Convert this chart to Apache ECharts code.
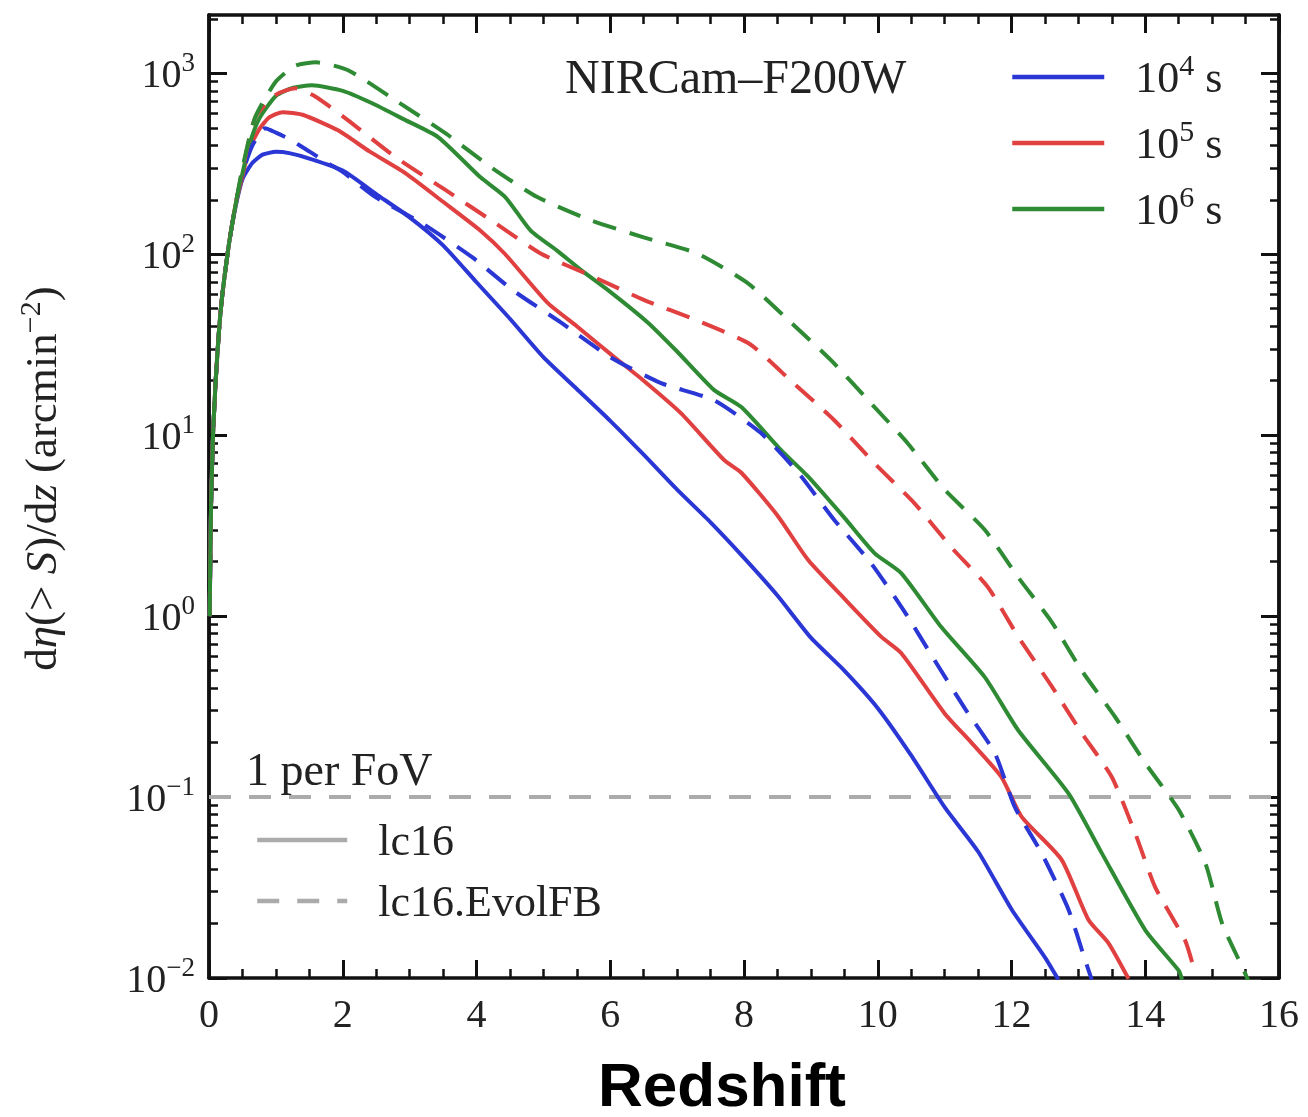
<!DOCTYPE html>
<html>
<head>
<meta charset="utf-8">
<script src="https://cdn.jsdelivr.net/npm/echarts@6/dist/echarts.min.js"></script>
<style>
html,body{margin:0;padding:0;background:#fff;}
#main{width:1308px;height:1117px;}
</style>
</head>
<body>
<div id="main"></div>
<script>
// ---------- DATA ----------
// lc16, 10^4 s (blue solid)
const zB  = [0.01,0.03,0.06,0.1,0.15,0.2,0.3,0.4,0.5,0.65,0.8,1.0,1.2,1.5,2.0,2.5,3.0,3.5,4.0,4.5,5.0,5.5,6.0,6.5,7.0,7.5,8.0,8.5,9.0,9.5,10.0,10.5,11.0,11.5,12.0,12.5,12.7];
const vB  = [1.0,4,10,20,38,60,115,185,260,320,355,368,362,338,290,215,160,112,70,44,27,18,12,7.8,5.0,3.3,2.1,1.3,0.76,0.5,0.31,0.17,0.088,0.05,0.024,0.013,0.0098];
// lc16.EvolFB, 10^4 s (blue dashed)
const zBd = [0.01,0.03,0.06,0.1,0.15,0.2,0.3,0.4,0.5,0.65,0.84,1.0,1.18,1.5,1.78,2.0,2.49,3.19,3.94,4.55,5.26,6.0,6.76,7.55,8.25,8.81,9.35,9.9,10.4,10.85,11.3,11.75,12.05,12.45,12.85,13.1,13.2];
const vBd = [1.0,4,10,20,38,60,115,190,280,400,497,470,437,370,318,285,207,148,96,63,42,27,19.4,15.6,10.3,6.2,3.4,1.96,1.06,0.57,0.31,0.175,0.088,0.049,0.024,0.0126,0.0098];
// lc16, 10^5 s (red solid)
const zR  = [0.01,0.03,0.06,0.1,0.15,0.2,0.3,0.4,0.5,0.6,0.75,0.9,1.1,1.4,1.93,2.4,2.94,3.5,4.06,4.43,5.06,5.5,6.06,6.5,7.06,7.7,7.96,8.5,8.96,9.5,10.05,10.35,11.0,11.4,11.85,12.15,12.75,13.15,13.45,13.75];
const vR  = [1.0,4,10,20,38,60,115,190,270,380,490,570,610,590,484,370,280,195,135,100,54,40,27,20,13.2,7.3,6.2,3.6,2.04,1.25,0.77,0.625,0.29,0.2,0.129,0.078,0.045,0.021,0.0156,0.0099];
// lc16.EvolFB, 10^5 s (red dashed)
const zRd = [0.01,0.03,0.06,0.1,0.15,0.2,0.3,0.4,0.5,0.69,1.0,1.29,1.6,2.08,2.79,3.54,4.22,4.96,5.75,6.5,7.3,8.08,8.7,9.35,9.95,10.55,11.1,11.65,12.1,12.6,13.05,13.5,13.85,14.15,14.6,14.75];
const vRd = [1.0,4,10,20,38,60,115,190,290,570,760,826,740,550,344,226,154,101,75,56,43,32,20,12.1,7,4.2,2.4,1.44,0.77,0.41,0.226,0.129,0.063,0.0317,0.016,0.0105];
// lc16, 10^6 s (green solid)
const zG  = [0.01,0.03,0.06,0.1,0.15,0.2,0.3,0.4,0.5,0.6,0.75,1.0,1.25,1.54,2.0,2.44,2.9,3.43,4.06,4.43,4.81,5.2,5.56,6.0,6.56,7.0,7.55,7.96,8.55,8.96,9.5,9.95,10.35,10.95,11.6,12.1,12.85,13.35,14.0,14.5,14.55];
const vG  = [1.0,4,10,20,38,60,115,190,280,400,560,750,830,858,800,683,560,443,266,207,135,105,82,62,42,29,17.8,14.3,8.3,5.9,3.5,2.23,1.73,0.87,0.46,0.234,0.105,0.049,0.0184,0.011,0.0098];
// lc16.EvolFB, 10^6 s (green dashed)
const zGd = [0.01,0.03,0.06,0.1,0.15,0.2,0.3,0.4,0.5,0.69,1.0,1.29,1.6,2.08,2.79,3.54,4.22,4.91,5.71,6.5,7.3,8.06,8.7,9.3,9.9,10.45,11.0,11.6,12.1,12.6,13.05,13.55,14.0,14.5,14.9,15.15,15.45,15.55];
const vGd = [1.0,4,10,20,38,60,115,190,300,570,900,1100,1150,1040,708,465,302,207,154,124,101,69,42,26,15,9,5,3,1.64,0.93,0.5,0.277,0.154,0.085,0.043,0.02,0.0115,0.0095];

const fovLevel = 0.1;            // "1 per FoV"
const fovRange = [0, 16];
const exposureNames = ['10⁴ s','10⁵ s','10⁶ s'];
const modelNames = ['lc16','lc16.EvolFB'];
const yMajorTicks = [0.01,0.1,1,10,100,1000];
const yMinorTicks = [];
[0.01,0.1,1,10,100,1000].forEach(d => { for (let k = 2; k <= 9; k++) yMinorTicks.push(+(d*k).toPrecision(3)); });
const xTickLabels = [0,2,4,6,8,10,12,14,16];

// ---------- CHART ----------
const SERIF = "'Liberation Serif', 'DejaVu Serif', serif";
const BLUE = '#2b37d4', RED = '#e04040', GREEN = '#2e8b34', GRAY = '#ababab';
const pairs = (xs, ys) => xs.map((x, i) => [x, ys[i]]);
const DASH = [24, 14];

function curve(name, xs, ys, color, dashed) {
  return {
    name, type: 'line', xAxisIndex: 0, yAxisIndex: 0,
    data: pairs(xs, ys), showSymbol: false, symbol: 'none', smooth: 0.2,
    clip: true, z: 5,
    lineStyle: { color, width: 4, type: dashed ? DASH : 'solid' },
    itemStyle: { color }
  };
}

const supMap = { '⁴':'4', '⁵':'5', '⁶':'6' };
const richTick = {
  b: { fontFamily: SERIF, fontSize: 40, color: '#222', lineHeight: 46, verticalAlign: 'bottom' },
  s: { fontFamily: SERIF, fontSize: 27, color: '#222', lineHeight: 30, verticalAlign: 'top' }
};
const richLegend = {
  sp: { width: 26 },
  b: { fontFamily: SERIF, fontSize: 44, color: '#222', lineHeight: 50, verticalAlign: 'bottom' },
  s: { fontFamily: SERIF, fontSize: 30, color: '#222', lineHeight: 32, verticalAlign: 'top' }
};

function yAxisDef(pos, major, showLabel) {
  return {
    type: 'log', logBase: 10, min: 0.01, max: 2100, position: pos,
    splitLine: { show: false },
    axisLine: { show: true, onZero: false, lineStyle: { color: '#111', width: 3.5 } },
    axisTick: { show: true, inside: true, length: major ? 18 : 9,
      customValues: major ? yMajorTicks : yMinorTicks,
      lineStyle: { color: '#111', width: major ? 3 : 2.5 } },
    axisLabel: showLabel ? {
      show: true, customValues: yMajorTicks, margin: 14,
      formatter: v => { const e = Math.round(Math.log10(v)); return '{b|10}{s|' + (e < 0 ? '−' + (-e) : e) + '}'; },
      rich: richTick
    } : { show: false }
  };
}
function xAxisDef(pos, showLabel) {
  return {
    type: 'value', min: 0, max: 16, interval: 2, position: pos,
    splitLine: { show: false },
    axisLine: { show: true, onZero: false, lineStyle: { color: '#111', width: 3.5 } },
    axisTick: { show: true, inside: true, length: 18, lineStyle: { color: '#111', width: 3 } },
    minorTick: { show: true, splitNumber: 4, length: 9, lineStyle: { color: '#111', width: 2.5 } },
    axisLabel: showLabel ? { show: true, margin: 18, fontFamily: SERIF, fontSize: 40, color: '#222',
      customValues: xTickLabels } : { show: false }
  };
}

const yName = Object.assign(yAxisDef('left', true, true), {
  name: '{n|d}{i|η}{n|(> }{i|S}{n|)/d}{i|z}{n| (arcmin}{s|−2}{n|)}',
  nameLocation: 'middle', nameGap: 142, nameRotate: 90,
  nameTextStyle: { padding: [0, 0, 0, 36], rich: {
    n: { fontFamily: SERIF, fontSize: 45, color: '#222', lineHeight: 50, verticalAlign: 'bottom' },
    i: { fontFamily: SERIF, fontSize: 45, fontStyle: 'italic', color: '#222', lineHeight: 50, verticalAlign: 'bottom' },
    s: { fontFamily: SERIF, fontSize: 30, color: '#222', lineHeight: 32, verticalAlign: 'top' }
  } }
});

const legendCommon = {
  orient: 'vertical', itemHeight: 6, selectedMode: false,
  itemStyle: { opacity: 0 },
  lineStyle: { width: 4.5 },
  textStyle: { rich: richLegend }
};

const option = {
  backgroundColor: '#fff',
  animation: false,
  grid: { left: 209, right: 29, top: 15, bottom: 139, containLabel: false },
  xAxis: [ xAxisDef('bottom', true), xAxisDef('top', false) ],
  yAxis: [ yName, yAxisDef('left', false, false), yAxisDef('right', true, false), yAxisDef('right', false, false) ],
  legend: [
    Object.assign({}, legendCommon, {
      data: exposureNames, left: 1005, top: 47, itemWidth: 92, itemGap: 16,
      formatter: n => { const sup = supMap[n.charAt(2)]; return '{sp|}{b|10}{s|' + sup + '}{b| s}'; }
    }),
    Object.assign({}, legendCommon, {
      data: modelNames, left: 250, top: 816, itemWidth: 90, itemGap: 17,
      formatter: n => '{sp|}{b|' + n + '}'
    })
  ],
  graphic: [
    { type: 'text', left: 565, top: 56, z: 10,
      style: { text: 'NIRCam–F200W', font: "48px 'Liberation Serif', serif", fill: '#222' } },
    { type: 'text', left: 246, top: 750, z: 10,
      style: { text: '1 per FoV', font: "46px 'Liberation Serif', serif", fill: '#222' } },
    { type: 'text', left: 598, top: 1058, z: 10,
      style: { text: 'Redshift', font: "bold 62px 'Liberation Sans', Arial, sans-serif", fill: '#000' } }
  ],
  series: [
    { name: '1 per FoV', type: 'line', data: fovRange.map(x => [x, fovLevel]), symbol: 'none', z: 3,
      lineStyle: { color: GRAY, width: 4, type: [22, 18] }, itemStyle: { color: GRAY } },
    curve('10⁴ s', zB, vB, BLUE, false),
    curve('10⁵ s', zR, vR, RED, false),
    curve('10⁶ s', zG, vG, GREEN, false),
    curve('EvolFB 10⁴ s', zBd, vBd, BLUE, true),
    curve('EvolFB 10⁵ s', zRd, vRd, RED, true),
    curve('EvolFB 10⁶ s', zGd, vGd, GREEN, true),
    { name: 'lc16', type: 'line', data: [], symbol: 'none',
      lineStyle: { color: GRAY, width: 4, type: 'solid' }, itemStyle: { color: GRAY } },
    { name: 'lc16.EvolFB', type: 'line', data: [], symbol: 'none',
      lineStyle: { color: GRAY, width: 4, type: [22, 18] }, itemStyle: { color: GRAY } }
  ]
};

const chart = echarts.init(document.getElementById('main'), null, { renderer: 'canvas' });
chart.setOption(option);
</script>
</body>
</html>
